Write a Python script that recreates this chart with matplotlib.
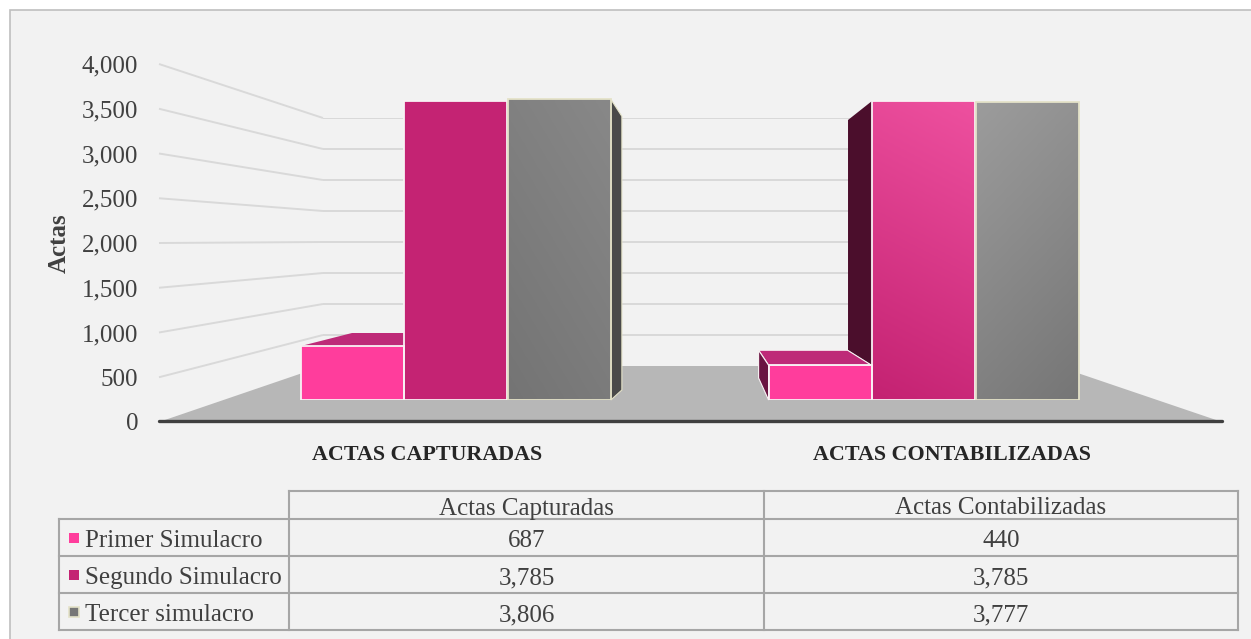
import numpy as np
import matplotlib.pyplot as plt
from matplotlib.patches import Polygon, Rectangle
from matplotlib.colors import LinearSegmentedColormap

# data
categories = ['ACTAS CAPTURADAS', 'ACTAS CONTABILIZADAS']
table_headers = ['Actas Capturadas', 'Actas Contabilizadas']
series = ['Primer Simulacro', 'Segundo Simulacro', 'Tercer simulacro']
primer = [687, 440]
segundo = [3785, 3785]
tercer = [3806, 3777]
y_ticks = [0, 500, 1000, 1500, 2000, 2500, 3000, 3500, 4000]

colors = ['#FF3D9C', '#C42373', '#777777']
edge_colors = ['#F8F2F4', '#F8F2F4', '#E4E2C8']
grid_color = '#D9D9D9'
text_color = '#404040'

plt.rcParams['font.family'] = ['Liberation Serif', 'DejaVu Serif']

W, H = 1251, 639
fig = plt.figure(figsize=(W / 100, H / 100), dpi=100)
fig.patch.set_facecolor('white')


def box(x0, y0, x1, y1):
    # pixel box (origin top-left) -> figure fraction rect
    return [x0 / W, 1 - y1 / H, (x1 - x0) / W, (y1 - y0) / H]


def to_px(a, x, y):
    dx, dy = a.transData.transform((x, y))
    return dx, H - dy


# pixel canvas for background, floor, side wall and the data table
bg = fig.add_axes([0, 0, 1, 1], zorder=0)
bg.set_xlim(0, W)
bg.set_ylim(H, 0)
bg.axis('off')
bg.add_patch(Rectangle((9.5, 9.5), 2000, 2000, facecolor='#F2F2F2',
                       edgecolor='#BFBFBF', lw=1.2))

# left wall: value labels
left = fig.add_axes(box(159, 64, 160, 422), zorder=1)
left.set_ylim(0, 4000)
left.set_yticks(y_ticks)
left.set_yticklabels([f'{v:,}' for v in y_ticks])
left.set_xticks([])
left.patch.set_visible(False)
for s in left.spines.values():
    s.set_visible(False)
left.tick_params(axis='y', length=0, pad=15, labelsize=18, labelcolor=text_color)
left.set_ylabel('Actas', fontsize=18, fontweight='bold', color=text_color, labelpad=8)

# back wall: gridlines
back = fig.add_axes(box(323, 118, 1057, 366), zorder=1)
back.set_ylim(0, 4000)
back.set_yticks(y_ticks[1:])
back.set_xticks([])
back.tick_params(length=0, labelleft=False)
back.grid(axis='y', color=grid_color, lw=1.4)
back.patch.set_visible(False)
for s in back.spines.values():
    s.set_visible(False)

# front plane: bars
ax = fig.add_axes(box(159, 84, 1222, 400), zorder=3)
ax.set_xlim(-0.6335, 1.6378)
ax.set_ylim(0, 4000)
ax.axis('off')

# slanted gridlines on the side wall
for v in y_ticks[1:]:
    x0, y0 = to_px(left, 0, v)
    x1, y1 = to_px(back, 0, v)
    bg.plot([x0, x1], [y0, y1], color=grid_color, lw=1.4, solid_capstyle='butt')

# floor
fl = to_px(left, 0, 0)
bl = to_px(back, 0, 0)
br = to_px(back, 1, 0)
fr = (to_px(ax, ax.get_xlim()[1], 0)[0], fl[1])
bg.add_patch(Polygon([fl, bl, br, fr], closed=True, facecolor='#B7B7B7', edgecolor='none'))
bg.plot([fl[0], fr[0]], [fl[1] - 1, fr[1] - 1], color='#404040', lw=2.4, solid_capstyle='round')

# bars
x = np.arange(len(categories))
offsets = [-0.221, 0, 0.222]
width = 0.22
bars = []
for vals, off, c in zip([primer, segundo, tercer], offsets, colors):
    bars.append(ax.bar(x + off, vals, width, color=c, edgecolor='none', zorder=3))


def corners(b):
    xl, top = to_px(ax, b.get_x(), b.get_height())
    xr, base = to_px(ax, b.get_x() + b.get_width(), 0)
    return xl, xr, top, base


def face(pts, color, z, ec='none'):
    inv = ax.transData.inverted()
    data = [inv.transform((px, H - py)) for px, py in pts]
    ax.add_patch(Polygon(data, closed=True, facecolor=color, edgecolor=ec,
                         lw=0.8, zorder=z, clip_on=False))


# 3-D faces
xl, xr, top, base = corners(bars[0][0])
face([(xl, top), (xr, top), (xr, top - 13), (xl + 51, top - 13)], '#BE2A78', 2)

xl, xr, top, base = corners(bars[2][0])
face([(xr, top), (xr + 11, top + 17), (xr + 11, base - 10), (xr, base)], '#4A4A4A', 2.5, '#E4E2C8')

pxl, pxr, ptop, pbase = corners(bars[0][1])
xl, xr, top, base = corners(bars[1][1])
face([(xl, top), (xl - 24, top + 19), (xl - 24, ptop - 15), (xl, ptop)], '#4B0E2C', 2)
face([(pxl, ptop), (pxr, ptop), (pxr - 24, ptop - 15), (pxl - 10, ptop - 15)], '#BE2A78', 3.5, '#F8F2F4')
face([(pxl, ptop), (pxl - 10, ptop - 15), (pxl - 10, pbase - 22), (pxl, pbase)], '#6A1442', 3.5, '#F8F2F4')


def gradient(b, c0, c1, angle):
    x0, y0 = b.get_x(), b.get_y()
    x1, y1 = x0 + b.get_width(), y0 + b.get_height()
    u = np.linspace(0, 1, 64)
    X, Y = np.meshgrid(u, u)
    a = np.deg2rad(angle)
    t = X * np.cos(a) + Y * np.sin(a)
    t = (t - t.min()) / (t.max() - t.min())
    cmap = LinearSegmentedColormap.from_list('g', [c0, c1])
    im = ax.imshow(t, extent=(x0, x1, y0, y1), origin='lower', cmap=cmap,
                   aspect='auto', zorder=3.1, interpolation='bilinear')
    im.set_clip_path(b)


gradient(bars[1][1], '#C42272', '#EE509F', 80)
gradient(bars[2][1], '#767676', '#9C9C9C', 110)
gradient(bars[2][0], '#747474', '#888888', 60)
ax.set_xlim(-0.6335, 1.6378)
ax.set_ylim(0, 4000)

for vals, off, ec in zip([primer, segundo, tercer], offsets, edge_colors):
    ax.bar(x + off, vals, width, fill=False, edgecolor=ec, lw=1.3, zorder=4)

# category labels on the floor edge
label_x = [427, 952]
for lx, cat in zip(label_x, categories):
    bg.text(lx, 452, cat, ha='center', va='center_baseline', fontsize=15.8,
            fontweight='bold', color='#262626')

# data table
tx = [59, 289, 764, 1238]
ty = [491, 519, 556, 593, 630]
lc = '#A6A6A6'
bg.plot([tx[1], tx[3]], [ty[0], ty[0]], color=lc, lw=1.5)
for y in ty[1:]:
    bg.plot([tx[0], tx[3]], [y, y], color=lc, lw=1.5)
bg.plot([tx[0], tx[0]], [ty[1], ty[4]], color=lc, lw=1.5)
for xx in tx[1:]:
    bg.plot([xx, xx], [ty[0], ty[4]], color=lc, lw=1.5)

for j, head in enumerate(table_headers):
    bg.text((tx[j + 1] + tx[j + 2]) / 2, (ty[0] + ty[1]) / 2 + 1, head, ha='center',
            va='center_baseline', fontsize=18, color=text_color)

for i, (name, vals, c, ec) in enumerate(zip(series, [primer, segundo, tercer], colors, edge_colors)):
    yc = (ty[i + 1] + ty[i + 2]) / 2
    bg.add_patch(Rectangle((68.5, yc - 5), 10, 10, facecolor=c,
                           edgecolor=ec if i == 2 else 'none', lw=1.2))
    bg.text(85, yc + 1, name, ha='left', va='center_baseline', fontsize=18, color=text_color)
    for j, v in enumerate(vals):
        bg.text((tx[j + 1] + tx[j + 2]) / 2, yc + 1, f'{v:,}', ha='center',
                va='center_baseline', fontsize=18, color=text_color)

fig.savefig('out.png', dpi=100)
